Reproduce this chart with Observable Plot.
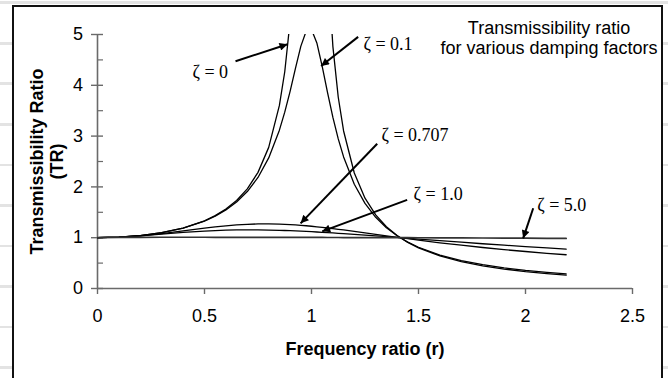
<!DOCTYPE html>
<html>
<head>
<meta charset="utf-8">
<script src="https://cdn.jsdelivr.net/npm/d3@7"></script>
<script src="https://cdn.jsdelivr.net/npm/@observablehq/plot@0.6"></script>
<style>
  html, body { margin: 0; padding: 0; }
  body {
    width: 668px; height: 378px; overflow: hidden; position: relative;
    background: repeating-linear-gradient(to bottom, #ffffff 0px, #ffffff 1.5px, #e3e3e3 1.5px, #e3e3e3 4.5px, #ffffff 4.5px, #ffffff 40.5px);
  }
  #box {
    position: absolute; left: 12px; top: 5px; width: 647px; height: 420px;
    border: 2px solid #111; border-bottom: none; background: #fff;
  }
  #chart { position: absolute; left: 0; top: 0; }
</style>
</head>
<body>
<div id="box"></div>
<div id="chart"></div>
<script>
// Frequency ratio r
const r = [0,0.1,0.2,0.3,0.4,0.5,0.55,0.6,0.65,0.7,0.75,0.8,0.85,0.875,0.9,0.925,0.95,0.975,1.0,1.025,1.05,1.075,1.1,1.125,1.15,1.2,1.25,1.3,1.35,1.4,1.45,1.5,1.6,1.7,1.8,1.9,2.0,2.1,2.19];
// Transmissibility ratio for each damping factor
const tr0    = [1,1.010,1.042,1.099,1.190,1.333,1.434,1.563,1.732,1.961,2.286,2.778,3.604,4.267,5.263,6.926,10.256,20.25,null,19.75,9.756,6.426,4.762,3.765,3.101,2.273,1.778,1.449,1.216,1.042,0.907,0.800,0.641,0.529,0.446,0.383,0.333,0.293,0.263];
const tr01   = [1,1.010,1.042,1.099,1.189,1.328,1.425,1.547,1.704,1.909,2.186,2.571,3.117,3.471,3.882,4.334,4.766,5.065,5.099,4.834,4.373,3.854,3.367,2.945,2.590,2.052,1.675,1.401,1.197,1.039,0.913,0.812,0.659,0.550,0.469,0.406,0.356,0.316,0.286];
const tr0707 = [1,1.010,1.038,1.082,1.135,1.188,1.213,1.234,1.251,1.264,1.271,1.272,1.267,1.263,1.258,1.251,1.243,1.235,1.225,1.214,1.203,1.191,1.178,1.165,1.152,1.124,1.095,1.066,1.037,1.008,0.980,0.953,0.900,0.852,0.807,0.765,0.728,0.693,0.664];
const tr1    = [1,1.010,1.036,1.070,1.104,1.131,1.141,1.149,1.153,1.155,1.154,1.150,1.145,1.142,1.138,1.133,1.129,1.124,1.118,1.112,1.106,1.100,1.094,1.087,1.080,1.066,1.051,1.036,1.020,1.005,0.989,0.973,0.942,0.911,0.881,0.852,0.825,0.798,0.775];
const tr5    = [1,1.005,1.008,1.009,1.009,1.009,1.008,1.008,1.008,1.008,1.007,1.007,1.006,1.006,1.006,1.006,1.006,1.005,1.005,1.005,1.005,1.004,1.004,1.004,1.003,1.003,1.002,1.002,1.001,1.000,1.000,0.999,0.997,0.996,0.994,0.992,0.990,0.988,0.986];

const seriesNames = ["0", "0.1", "0.707", "1.0", "5.0"];
const seriesValues = [tr0, tr01, tr0707, tr1, tr5];

// Axis ticks
const xTicks = [0, 0.5, 1, 1.5, 2, 2.5];
const yMajor = [0, 1, 2, 3, 4, 5];
const yMinor = [0.5, 1.5, 2.5, 3.5, 4.5];

// Texts
const titleLines = ["Transmissibility ratio", "for various damping factors"];
const xTitle = "Frequency ratio (r)";
const yTitleLines = ["Transmissibility Ratio", "(TR)"];

// Annotations (data coordinates)
const labelText = ["ζ = 0", "ζ = 0.1", "ζ = 0.707", "ζ = 1.0", "ζ = 5.0"];
const labelX = [0.444, 1.243, 1.327, 1.477, 2.055];
const labelY = [4.148, 4.690, 2.895, 1.750, 1.519];
const arrowX1 = [0.645, 1.218, 1.307, 1.447, 2.036];
const arrowY1 = [4.473, 4.953, 2.849, 1.744, 1.579];
const arrowX2 = [0.888, 1.045, 0.949, 1.050, 1.989];
const arrowY2 = [4.809, 4.380, 1.283, 1.125, 0.987];

const rows = [];
seriesNames.forEach((z, s) => {
  r.forEach((rv, i) => rows.push({zeta: z, r: rv, tr: seriesValues[s][i]}));
});
const labels = labelText.map((t, i) => ({t, x: labelX[i], y: labelY[i]}));
const arrows = arrowX1.map((x1, i) => ({x1, y1: arrowY1[i], x2: arrowX2[i], y2: arrowY2[i]}));

const axisColor = "#6a6a6a";

const chart = Plot.plot({
  width: 668,
  height: 378,
  marginLeft: 97,
  marginRight: 36,
  marginTop: 34,
  marginBottom: 90,
  style: {background: "transparent", fontFamily: "'Liberation Sans', Arial, sans-serif", fontSize: "18px", color: "#000"},
  x: {domain: [0, 2.5]},
  y: {domain: [0, 5]},
  marks: [
    Plot.ruleX([0], {stroke: axisColor, strokeWidth: 1.6}),
    Plot.ruleY([0], {stroke: axisColor, strokeWidth: 1.6}),
    Plot.axisX({ticks: xTicks, tickSize: 6, tickPadding: 15, tickFormat: d => String(d), label: null, stroke: axisColor, strokeWidth: 1.4, fontSize: 18}),
    Plot.axisY({ticks: yMajor, tickSize: 12, dx: 6, tickPadding: 8.5, tickFormat: d => String(d), label: null, stroke: axisColor, strokeWidth: 1.4, fontSize: 18}),
    Plot.axisY({ticks: yMinor, tickSize: 6, dx: 6, tickFormat: () => "", label: null, stroke: axisColor, strokeWidth: 1.2}),
    Plot.line(rows.filter(d => d.zeta !== "5.0"), {x: "r", y: "tr", z: "zeta", stroke: "#000", strokeWidth: 1.3, clip: true}),
    Plot.line(rows.filter(d => d.zeta === "5.0"), {x: "r", y: "tr", stroke: "#333", strokeWidth: 1.7, clip: true}),
    Plot.link(arrows, {x1: "x1", y1: "y1", x2: "x2", y2: "y2", stroke: "#000", strokeWidth: 2}),
    Plot.text(labels, {x: "x", y: "y", text: "t", textAnchor: "start", lineAnchor: "bottom", fontFamily: "'Liberation Serif', 'Times New Roman', serif", fontSize: 18}),
    Plot.text([titleLines.join("\n")], {frameAnchor: "top-right", textAnchor: "middle", lineAnchor: "bottom", lineHeight: 1.1, dx: -83.5, dy: 19, fontSize: 18}),
    Plot.text([xTitle], {frameAnchor: "bottom", textAnchor: "middle", lineAnchor: "bottom", dy: 66.5, fontWeight: "bold", fontSize: 18}),
    Plot.text([yTitleLines.join("\n")], {frameAnchor: "left", textAnchor: "middle", lineAnchor: "middle", rotate: -90, lineHeight: 1.1, dx: -50.5, fontWeight: "bold", fontSize: 18})
  ]
});

// filled arrowheads
const ns = "http://www.w3.org/2000/svg";
const defs = document.createElementNS(ns, "defs");
const marker = document.createElementNS(ns, "marker");
marker.setAttribute("id", "ahead");
marker.setAttribute("viewBox", "0 0 10 10");
marker.setAttribute("refX", "10");
marker.setAttribute("refY", "5");
marker.setAttribute("markerUnits", "userSpaceOnUse");
marker.setAttribute("markerWidth", "11");
marker.setAttribute("markerHeight", "8");
marker.setAttribute("orient", "auto");
const mp = document.createElementNS(ns, "path");
mp.setAttribute("d", "M0,0L10,5L0,10Z");
mp.setAttribute("fill", "#000");
marker.appendChild(mp);
defs.appendChild(marker);
chart.insertBefore(defs, chart.firstChild);
chart.querySelectorAll('g[aria-label="link"] path').forEach(p => p.setAttribute("marker-end", "url(#ahead)"));

document.getElementById("chart").appendChild(chart);
</script>
</body>
</html>
